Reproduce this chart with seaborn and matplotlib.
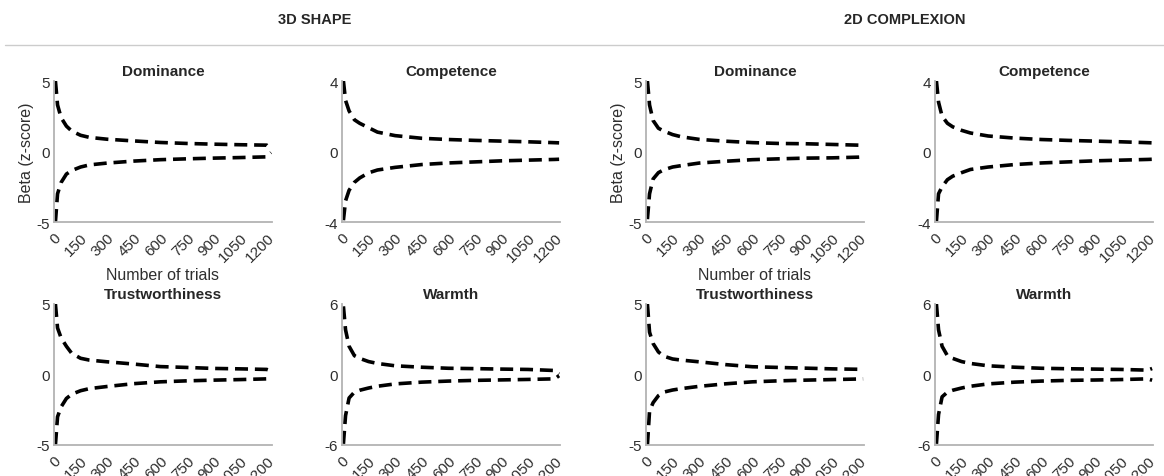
import matplotlib
matplotlib.use("Agg")
import matplotlib.pyplot as plt
import seaborn as sns
import pandas as pd

sns.set_style("white")
plt.rcParams['font.family'] = ['Liberation Sans', 'DejaVu Sans']

# ---- data ----
TRIALS = [8, 20, 40, 70, 100, 150, 200, 300, 450, 600, 750, 900, 1050, 1200, 1225]
X_TICKS = [0, 150, 300, 450, 600, 750, 900, 1050, 1200]
GROUPS = ["3D SHAPE", "2D COMPLEXION"]
TRAITS = ["Dominance", "Competence", "Trustworthiness", "Warmth"]
Y_LIMITS = {"Dominance": 5, "Competence": 4, "Trustworthiness": 5, "Warmth": 6}

dom3_up = [5.0, 3.3, 2.4, 1.8, 1.45, 1.15, 1.0, 0.87, 0.75, 0.64, 0.57, 0.52, 0.48, 0.45, 0.15]
dom3_lo = [-5.0, -3.0, -2.2, -1.6, -1.35, -1.1, -0.95, -0.82, -0.68, -0.58, -0.52, -0.47, -0.43, -0.38, -0.08]
com3_up = [4.0, 2.9, 2.3, 1.8, 1.6, 1.35, 1.1, 0.9, 0.75, 0.68, 0.63, 0.59, 0.55, 0.5, 0.49]
com3_lo = [-3.9, -2.8, -2.2, -1.75, -1.5, -1.21, -1.05, -0.9, -0.74, -0.65, -0.59, -0.53, -0.49, -0.45, -0.44]
tru3_up = [5.0, 3.3, 2.6, 2.0, 1.5, 1.15, 1.02, 0.9, 0.74, 0.56, 0.5, 0.43, 0.4, 0.36, 0.26]
tru3_lo = [-5.0, -3.0, -2.3, -1.7, -1.4, -1.15, -1.0, -0.85, -0.65, -0.52, -0.45, -0.4, -0.36, -0.31, -0.22]
war3_up = [5.8, 3.8, 2.4, 1.6, 1.37, 1.1, 0.94, 0.74, 0.62, 0.53, 0.5, 0.46, 0.43, 0.34, 0.05]
war3_lo = [-5.9, -3.5, -2.0, -1.5, -1.34, -1.15, -1.0, -0.8, -0.65, -0.56, -0.5, -0.46, -0.42, -0.37, -0.1]

dom2_up = [5.0, 3.3, 2.2, 1.65, 1.45, 1.2, 1.04, 0.86, 0.73, 0.63, 0.57, 0.55, 0.5, 0.45, 0.43]
dom2_lo = [-4.8, -3.0, -1.95, -1.5, -1.3, -1.1, -1.0, -0.82, -0.69, -0.58, -0.52, -0.47, -0.45, -0.4, -0.38]
com2_up = [4.0, 2.8, 2.0, 1.6, 1.4, 1.2, 1.05, 0.88, 0.76, 0.68, 0.63, 0.59, 0.55, 0.5, 0.49]
com2_lo = [-3.96, -2.4, -2.0, -1.6, -1.4, -1.2, -1.02, -0.88, -0.74, -0.65, -0.59, -0.53, -0.49, -0.45, -0.44]
tru2_up = [5.0, 3.0, 2.2, 1.6, 1.3, 1.1, 1.02, 0.9, 0.7, 0.55, 0.5, 0.45, 0.4, 0.37, 0.36]
tru2_lo = [-5.0, -2.6, -2.0, -1.5, -1.25, -1.1, -1.0, -0.84, -0.66, -0.52, -0.45, -0.4, -0.36, -0.32, -0.31]
war2_up = [6.0, 3.8, 2.4, 1.6, 1.37, 1.1, 0.94, 0.74, 0.62, 0.53, 0.49, 0.46, 0.43, 0.37, 0.51]
war2_lo = [-5.9, -3.4, -1.9, -1.5, -1.34, -1.15, -1.0, -0.8, -0.65, -0.56, -0.5, -0.47, -0.43, -0.37, -0.49]

BOUNDS = {
    ("3D SHAPE", "Dominance"): (dom3_up, dom3_lo),
    ("3D SHAPE", "Competence"): (com3_up, com3_lo),
    ("3D SHAPE", "Trustworthiness"): (tru3_up, tru3_lo),
    ("3D SHAPE", "Warmth"): (war3_up, war3_lo),
    ("2D COMPLEXION", "Dominance"): (dom2_up, dom2_lo),
    ("2D COMPLEXION", "Competence"): (com2_up, com2_lo),
    ("2D COMPLEXION", "Trustworthiness"): (tru2_up, tru2_lo),
    ("2D COMPLEXION", "Warmth"): (war2_up, war2_lo),
}

# ---- layout ----
W, H = 1164, 477
fig = plt.figure(figsize=(W / 100, H / 100), dpi=100)

col_left = {("3D SHAPE", 0): 54, ("3D SHAPE", 1): 342,
            ("2D COMPLEXION", 0): 646, ("2D COMPLEXION", 1): 935}
row_top = [82, 305]
ax_w, ax_h = 218, 141

SPINE = "#b3b3b3"
TXT = "#2e2e2e"

for g in GROUPS:
    for i, trait in enumerate(TRAITS):
        r, c = divmod(i, 2)
        left = col_left[(g, c)]
        top = row_top[r]
        ax = fig.add_axes([left / W, 1 - (top + ax_h) / H, ax_w / W, ax_h / H])
        up, lo = BOUNDS[(g, trait)]
        df = pd.DataFrame({"trials": TRIALS + TRIALS,
                           "beta": up + lo,
                           "bound": ["upper"] * len(TRIALS) + ["lower"] * len(TRIALS)})
        for b in ["upper", "lower"]:
            sns.lineplot(data=df[df.bound == b], x="trials", y="beta", ax=ax,
                         color="black", lw=2.6, linestyle=(0, (3.6, 1.9)),
                         estimator=None, sort=False)
        lim = Y_LIMITS[trait]
        ax.set_ylim(-lim, lim)
        ax.set_xlim(0, 1230)
        ax.set_yticks([-lim, 0, lim])
        ax.set_yticklabels([str(-lim), "0", str(lim)])
        ax.set_xticks(X_TICKS)
        ax.set_xticklabels([str(t) for t in X_TICKS], rotation=45,
                           ha="right", rotation_mode="anchor")
        ax.tick_params(axis="both", direction="in", length=3, width=0.8,
                       color=SPINE, labelsize=11, labelcolor=TXT, pad=3)
        ax.tick_params(axis="x", pad=6)
        for s in ["top", "right"]:
            ax.spines[s].set_visible(False)
        for s in ["left", "bottom"]:
            ax.spines[s].set_color(SPINE)
            ax.spines[s].set_linewidth(1.3)
        ax.set_title(trait, fontsize=11, fontweight="bold", pad=4)
        ax.set_xlabel("")
        ax.set_ylabel("")
        if r == 0 and c == 0:
            ax.set_ylabel("Beta (z-score)", fontsize=11.5, color=TXT, labelpad=2)
            ax.set_xlabel("Number of trials", fontsize=11.5, color=TXT, labelpad=2)

# headers
fig.text(315 / W, 1 - 20 / H, "3D SHAPE", ha="center", va="center",
         fontsize=10.5, fontweight="bold")
fig.text(905 / W, 1 - 20 / H, "2D COMPLEXION", ha="center", va="center",
         fontsize=10.5, fontweight="bold")
fig.add_artist(plt.Line2D([5 / W, 1], [1 - 46 / H, 1 - 46 / H],
                          transform=fig.transFigure, color="#cccccc", lw=1))

fig.savefig("out.png", dpi=100, facecolor="white")
